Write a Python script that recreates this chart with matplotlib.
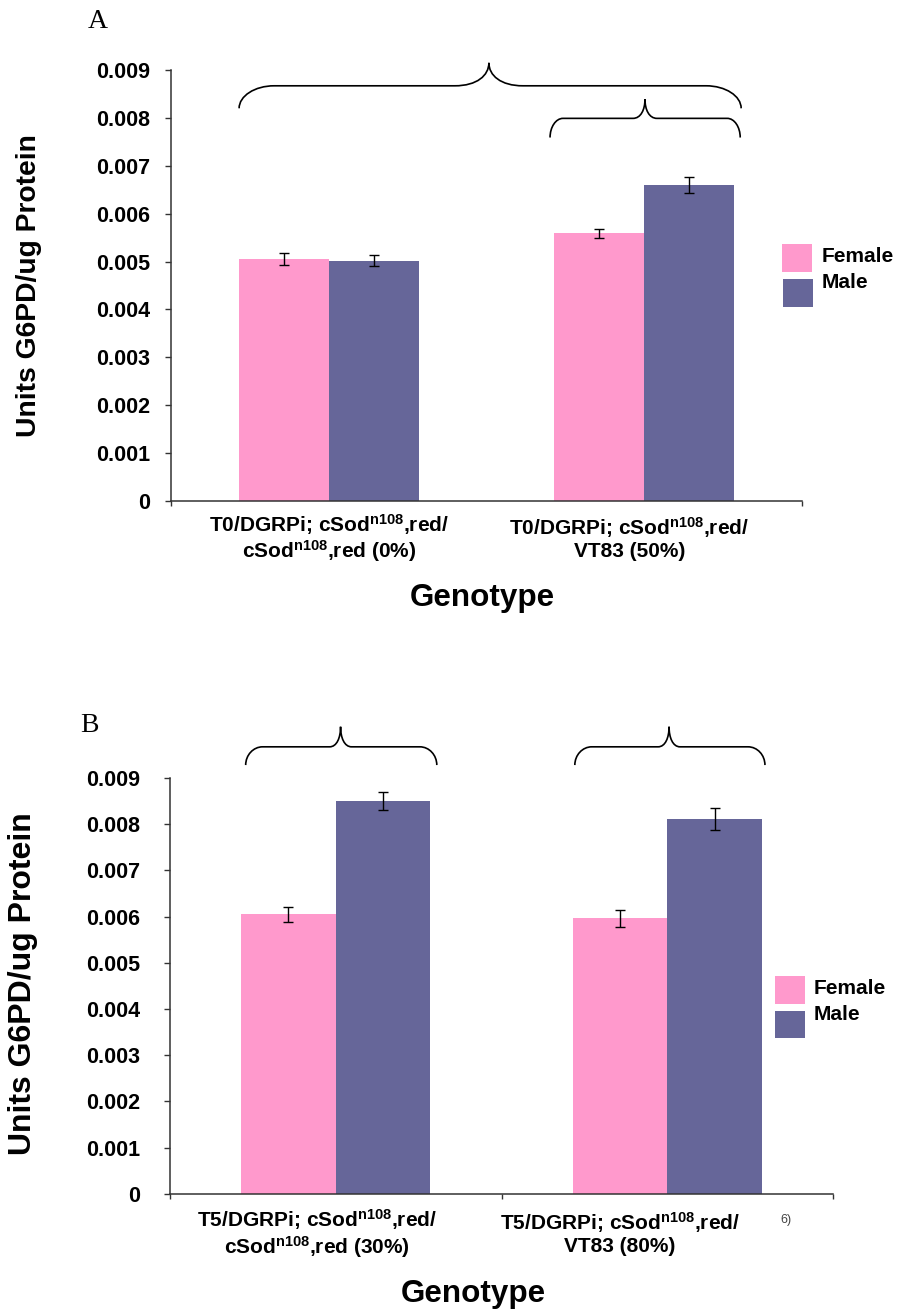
import matplotlib
matplotlib.use('Agg')
import matplotlib.pyplot as plt
from matplotlib.path import Path
from matplotlib.patches import PathPatch, Rectangle
import matplotlib.transforms as mtransforms
import numpy as np

plt.rcParams['font.family'] = ['Liberation Sans', 'DejaVu Sans']
plt.rcParams['font.weight'] = 'bold'
plt.rcParams['mathtext.fontset'] = 'custom'
plt.rcParams['mathtext.rm'] = 'Liberation Sans:bold'
plt.rcParams['mathtext.it'] = 'Liberation Sans:bold'
plt.rcParams['mathtext.bf'] = 'Liberation Sans:bold'

# ---------------- data ----------------
series = ['Female', 'Male']
colors = ['#FF99CC', '#666699']

genotypes_a = ["T0/DGRPi; cSod$^{\\mathrm{n108}}$,red/\ncSod$^{\\mathrm{n108}}$,red (0%)",
               "T0/DGRPi; cSod$^{\\mathrm{n108}}$,red/\nVT83 (50%)"]
female_a = [0.00505, 0.00559]
male_a = [0.00502, 0.00660]
female_a_err = [0.00012, 0.00010]
male_a_err = [0.00012, 0.00017]

genotypes_b = ["T5/DGRPi; cSod$^{\\mathrm{n108}}$,red/\ncSod$^{\\mathrm{n108}}$,red (30%)",
               "T5/DGRPi; cSod$^{\\mathrm{n108}}$,red/\nVT83 (80%)"]
female_b = [0.00605, 0.00596]
male_b = [0.00850, 0.00811]
female_b_err = [0.00016, 0.00018]
male_b_err = [0.00020, 0.00023]

yticks = [0, 0.001, 0.002, 0.003, 0.004, 0.005, 0.006, 0.007, 0.008, 0.009]
ytick_labels = ['0', '0.001', '0.002', '0.003', '0.004', '0.005', '0.006', '0.007', '0.008', '0.009']
ylabel = 'Units G6PD/ug Protein'
xlabel = 'Genotype'

# ---------------- layout ----------------
W, H = 897, 1311
fig = plt.figure(figsize=(W / 100, H / 100), dpi=100)


def fx(px):
    return px / W


def fy(py):
    return 1 - py / H


def make_axes(left, right, top, bottom):
    return fig.add_axes([fx(left), fy(bottom), fx(right) - fx(left), fy(top) - fy(bottom)])


def draw_brace(ax, x0, x1, xt, y_end, y_flat, y_tip, rc, rt):
    verts = [
        (x0, y_end),
        (x0, y_end + (y_flat - y_end) * 0.55), (x0 + rc * 0.45, y_flat), (x0 + rc, y_flat),
        (xt - rt, y_flat),
        (xt - rt * 0.35, y_flat), (xt, y_flat + (y_tip - y_flat) * 0.45), (xt, y_tip),
        (xt, y_flat + (y_tip - y_flat) * 0.45), (xt + rt * 0.35, y_flat), (xt + rt, y_flat),
        (x1 - rc, y_flat),
        (x1 - rc * 0.45, y_flat), (x1, y_end + (y_flat - y_end) * 0.55), (x1, y_end),
    ]
    codes = [Path.MOVETO,
             Path.CURVE4, Path.CURVE4, Path.CURVE4,
             Path.LINETO,
             Path.CURVE4, Path.CURVE4, Path.CURVE4,
             Path.CURVE4, Path.CURVE4, Path.CURVE4,
             Path.LINETO,
             Path.CURVE4, Path.CURVE4, Path.CURVE4]
    patch = PathPatch(Path(verts, codes), facecolor='none', edgecolor='black',
                      lw=1.2, clip_on=False)
    ax.add_patch(patch)


def panel(ax, female, male, ferr, merr, genos, label_offsets, label_y, ypad, xt_ticks):
    x = np.arange(len(genos))
    w = 0.285
    ekw = dict(ecolor='black', elinewidth=1.0, capsize=3.3, capthick=1.0)
    ax.bar(x - w / 2, female, w, color=colors[0], yerr=ferr, error_kw=ekw, zorder=2)
    ax.bar(x + w / 2, male, w, color=colors[1], yerr=merr, error_kw=ekw, zorder=2)
    ax.set_xlim(-0.5, 1.5)
    ax.set_ylim(0, 0.009)
    ax.set_yticks(yticks)
    ax.set_yticklabels(ytick_labels, fontsize=15.5, fontweight='bold')
    ax.set_xticks(xt_ticks)
    ax.set_xticklabels([])
    for s in ['top', 'right']:
        ax.spines[s].set_visible(False)
    for s in ['left', 'bottom']:
        ax.spines[s].set_color('#333333')
        ax.spines[s].set_linewidth(1.1)
    ax.tick_params(axis='y', direction='out', length=4.3, width=1.0, color='#333333', pad=ypad)
    ax.tick_params(axis='x', direction='out', length=3.5, width=1.0, color='#333333')
    trans = mtransforms.blended_transform_factory(ax.transData, ax.transAxes)
    for i, g in enumerate(genos):
        ax.text(i + label_offsets[i], label_y, g, transform=trans, ha='center', va='center',
                multialignment='center', fontsize=15, fontweight='bold', linespacing=1.1)


# Panel A
axA = make_axes(171, 801.7, 70, 501)
panel(axA, female_a, male_a, female_a_err, male_a_err, genotypes_a,
      [0.0, -0.047], -0.086, 11.0, [-0.5, 1.5])
draw_brace(axA, -0.284, 1.308, 0.508, 0.0082, 0.00867, 0.00915, 0.111, 0.108)
draw_brace(axA, 0.702, 1.305, 1.003, 0.00759, 0.00799, 0.00839, 0.041, 0.038)

# Panel B
axB = make_axes(169.7, 833.3, 778, 1193.7)
panel(axB, female_b, male_b, female_b_err, male_b_err, genotypes_b,
      [-0.057, -0.143], -0.095, 17.0, [-0.5, 0.5, 1.5])
draw_brace(axB, -0.271, 0.305, 0.015, 0.00928, 0.009675, 0.01011, 0.051, 0.033)
draw_brace(axB, 0.721, 1.294, 1.005, 0.00928, 0.009675, 0.01011, 0.051, 0.033)

# axis titles
fig.text(fx(29), fy(286), ylabel, rotation=90, ha='center', va='center',
         fontsize=20.3, fontweight='bold')
fig.text(fx(23), fy(984), ylabel, rotation=90, ha='center', va='center',
         fontsize=23, fontweight='bold')
fig.text(fx(482), fy(598), xlabel, ha='center', va='center', fontsize=22.6, fontweight='bold')
fig.text(fx(473), fy(1294), xlabel, ha='center', va='center', fontsize=22.6, fontweight='bold')

# panel letters
fig.text(fx(98), fy(21), 'A', ha='center', va='center', fontsize=20,
         family='Liberation Serif', fontweight='normal')
fig.text(fx(89), fy(726), 'B', ha='center', va='center', fontsize=20,
         family='Liberation Serif', fontweight='normal')

# legends
def legend(px_patch_x, patch_ys, text_x, text_ys):
    for i, name in enumerate(series):
        y0, y1 = patch_ys[i]
        fig.add_artist(Rectangle((fx(px_patch_x[i]), fy(y1)), fx(30), fy(y0) - fy(y1),
                                 transform=fig.transFigure, facecolor=colors[i],
                                 edgecolor='none'))
        fig.text(fx(text_x), fy(text_ys[i]), name, ha='left', va='center',
                 fontsize=15, fontweight='bold')


legend([782, 783], [(244, 272), (279, 307)], 822, [256, 282])
legend([775, 775], [(976, 1003.5), (1011, 1038)], 814, [988, 1014])

# stray fragment visible in the original
fig.text(fx(786), fy(1220), '6)', ha='center', va='center', fontsize=9,
         fontweight='normal', color='#444444')

fig.savefig('out.png', dpi=100)
